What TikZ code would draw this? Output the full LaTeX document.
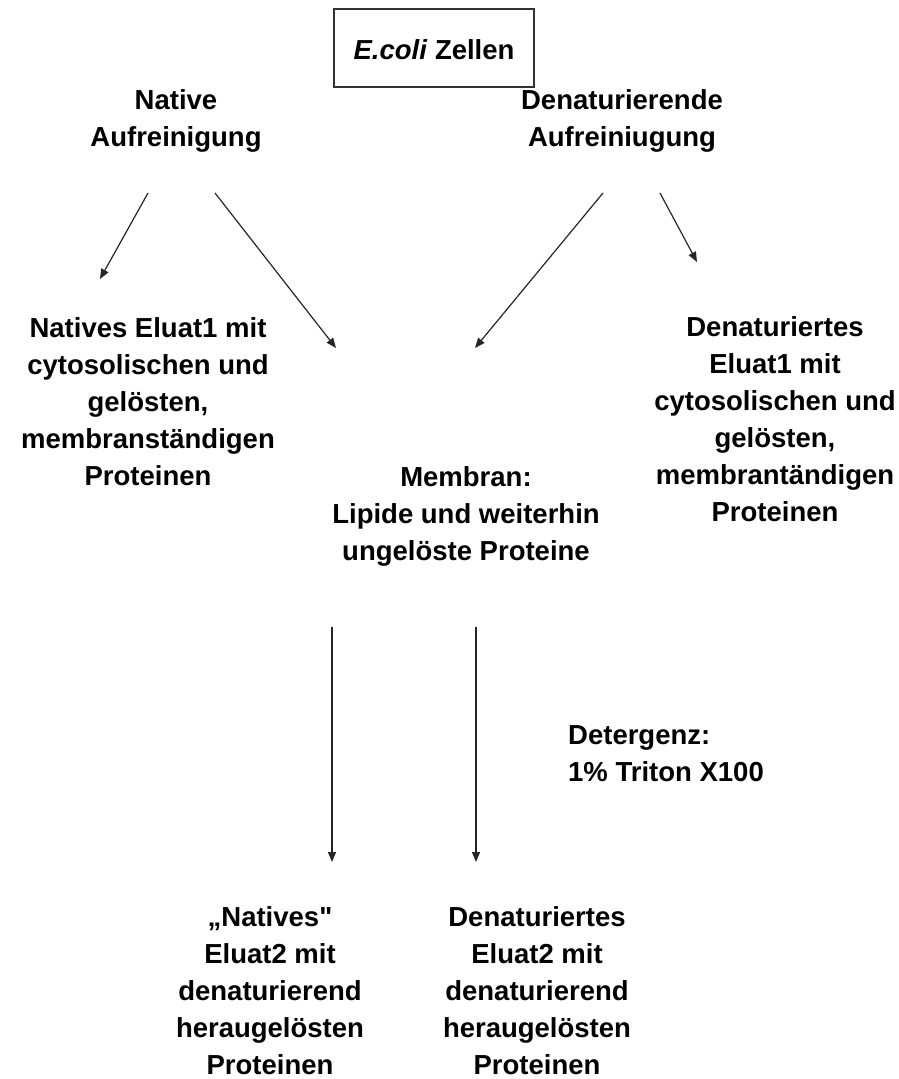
\documentclass[tikz,border=0pt]{standalone}
\usepackage{fontspec}
\setmainfont{Liberation Sans}
\usetikzlibrary{arrows.meta}
\tikzset{
  lbl/.style={font=\fontsize{27.5}{37}\selectfont\bfseries, align=center, inner sep=0pt, anchor=center},
  lbll/.style={font=\fontsize{27.5}{37}\selectfont\bfseries, align=left, inner sep=0pt, anchor=west},
  arr/.style={draw=black!85, line width=1.2pt, -{Triangle[length=10pt,width=8pt]}},
  cell/.style={draw=black!80, line width=1.4pt, minimum width=200pt, minimum height=78pt, inner sep=0pt}
}
\begin{document}
\begin{tikzpicture}[x=1pt,y=-1pt]
\useasboundingbox (0,0) rectangle (899,1079);
\node[cell] (box) at (434,48) {};
\node[lbl] (ecoli) at (434,50) {\textit{E.coli} Zellen};
\node[lbl] (nat) at (176,121) {Native\\Aufreinigung};
\node[lbl] (den) at (622,121) {Denaturierende\\Aufreiniugung};
\node[lbl] (el1) at (148,402) {Natives Eluat1 mit\\cytosolischen und\\gelösten,\\membranständigen\\Proteinen};
\node[lbl] (del1) at (775,419) {Denaturiertes\\Eluat1 mit\\cytosolischen und\\gelösten,\\membrantändigen\\Proteinen};
\node[lbl] (mem) at (466,516) {Membran:\\Lipide und weiterhin\\ungelöste Proteine};
\node[lbll] (det) at (568,754) {Detergenz:\\1\% Triton X100};
\node[lbl] (el2) at (270,991) {„Natives\textquotedbl\\Eluat2 mit\\denaturierend\\heraugelösten\\Proteinen};
\node[lbl] (del2) at (537,991) {Denaturiertes\\Eluat2 mit\\denaturierend\\heraugelösten\\Proteinen};
\coordinate (a1s) at (148,193); \coordinate (a1e) at (100,279);
\coordinate (a2s) at (215,193); \coordinate (a2e) at (336,348);
\coordinate (a3s) at (603,193); \coordinate (a3e) at (475,348);
\coordinate (a4s) at (660,193); \coordinate (a4e) at (697,262);
\coordinate (v1s) at (332,627); \coordinate (v1e) at (332,862);
\coordinate (v2s) at (476,627); \coordinate (v2e) at (476,862);
\draw[arr] (a1s) -- (a1e);
\draw[arr] (a2s) -- (a2e);
\draw[arr] (a3s) -- (a3e);
\draw[arr] (a4s) -- (a4e);
\draw[arr] (v1s) -- (v1e);
\draw[arr] (v2s) -- (v2e);
\end{tikzpicture}
\end{document}
